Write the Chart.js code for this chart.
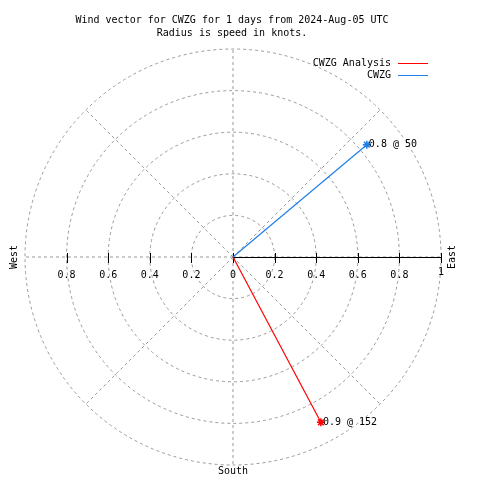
<!DOCTYPE html>
<html>
<head>
<meta charset="utf-8">
<script src="https://cdn.jsdelivr.net/npm/chart.js@4/dist/chart.umd.min.js"></script>
<style>
  html, body { margin: 0; padding: 0; background: #fff; }
</style>
</head>
<body>
<canvas id="windChart" width="480" height="480"></canvas>
<script>
// wind vector data (speed in knots, direction in degrees from north)
const seriesNames = ['CWZG Analysis', 'CWZG'];
const speeds = [0.9, 0.84];
const directions = [152, 50];
const seriesColors = ['#ff0000', '#1f7fe8'];

// polar grid
const rings = [0.2, 0.4, 0.6, 0.8, 1];
const spokeAngles = [0, 45, 90, 135, 180, 225, 270, 315];
const tickValues = [-0.8, -0.6, -0.4, -0.2, 0, 0.2, 0.4, 0.6, 0.8, 1];
const tickLabels = ['0.8', '0.6', '0.4', '0.2', '0', '0.2', '0.4', '0.6', '0.8', '1'];

const titleLines = ['Wind vector for CWZG for 1 days from 2024-Aug-05 UTC', 'Radius is speed in knots.'];
const FONT = '10px "DejaVu Sans Mono", monospace';

function toXY(speed, dir) {
  const a = dir * Math.PI / 180;
  return { x: speed * Math.sin(a), y: speed * Math.cos(a) };
}

const datasets = seriesNames.map(function (name, i) {
  return {
    label: name,
    data: [{ x: 0, y: 0 }, toXY(speeds[i], directions[i])],
    showLine: true,
    borderColor: seriesColors[i],
    backgroundColor: seriesColors[i],
    borderWidth: 1.2,
    pointStyle: 'star',
    pointRadius: [0, 4],
    pointBorderWidth: 1.5
  };
});

const polarGrid = {
  id: 'polarGrid',
  beforeDatasetsDraw(chart) {
    const ctx = chart.ctx;
    const xs = chart.scales.x, ys = chart.scales.y;
    const cx = xs.getPixelForValue(0), cy = ys.getPixelForValue(0);
    ctx.save();
    ctx.strokeStyle = '#999999';
    ctx.lineWidth = 1;
    ctx.setLineDash([3, 3]);
    rings.forEach(function (r) {
      const rad = xs.getPixelForValue(r) - cx;
      ctx.beginPath();
      ctx.arc(cx, cy, rad, 0, Math.PI * 2);
      ctx.stroke();
    });
    spokeAngles.forEach(function (d) {
      const p = toXY(1, d);
      ctx.beginPath();
      ctx.moveTo(cx, cy);
      ctx.lineTo(xs.getPixelForValue(p.x), ys.getPixelForValue(p.y));
      ctx.stroke();
    });
    // solid east axis
    ctx.setLineDash([]);
    ctx.strokeStyle = '#000';
    ctx.beginPath();
    ctx.moveTo(cx, cy + 0.5);
    ctx.lineTo(xs.getPixelForValue(1), cy + 0.5);
    ctx.stroke();
    tickValues.forEach(function (v) {
      const px = Math.round(xs.getPixelForValue(v)) + 0.5;
      ctx.beginPath();
      ctx.moveTo(px, cy - 4);
      ctx.lineTo(px, cy + 6);
      ctx.stroke();
    });
    ctx.restore();
  },
  afterDraw(chart) {
    const ctx = chart.ctx;
    const xs = chart.scales.x, ys = chart.scales.y;
    const cx = xs.getPixelForValue(0), cy = ys.getPixelForValue(0);
    ctx.save();
    ctx.font = FONT;
    ctx.fillStyle = '#000';
    ctx.textBaseline = 'middle';

    // title
    ctx.textAlign = 'center';
    ctx.fillText(titleLines[0], 232, 20);
    ctx.fillText(titleLines[1], 232, 33);

    // tick labels
    tickValues.forEach(function (v, i) {
      const y = v === 1 ? cy + 15 : cy + 18;
      ctx.fillText(tickLabels[i], xs.getPixelForValue(v), y);
    });

    // compass labels
    ctx.fillText('South', cx, 471);
    ctx.save();
    ctx.translate(452, cy);
    ctx.rotate(-Math.PI / 2);
    ctx.fillText('East', 0, 0);
    ctx.restore();
    ctx.save();
    ctx.translate(14, cy);
    ctx.rotate(-Math.PI / 2);
    ctx.fillText('West', 0, 0);
    ctx.restore();

    // value labels at vector tips
    ctx.textAlign = 'left';
    seriesNames.forEach(function (name, i) {
      const p = toXY(speeds[i], directions[i]);
      ctx.fillText(speeds[i].toFixed(1) + ' @ ' + directions[i],
        xs.getPixelForValue(p.x) + 2, ys.getPixelForValue(p.y));
    });

    // legend (text then line sample)
    ctx.textAlign = 'right';
    seriesNames.forEach(function (name, i) {
      const y = 63 + i * 12;
      ctx.fillStyle = '#000';
      ctx.fillText(name, 391, y);
      ctx.fillStyle = seriesColors[i];
      ctx.fillRect(398, y, 30, 1);
    });
    ctx.restore();
  }
};

var windChart = new Chart(document.getElementById('windChart'), {
  type: 'scatter',
  data: { datasets: datasets },
  options: {
    responsive: false,
    animation: false,
    layout: { padding: { left: 25, right: 39, top: 49, bottom: 15 } },
    scales: {
      x: { type: 'linear', min: -1, max: 1, display: false },
      y: { type: 'linear', min: -1, max: 1, display: false }
    },
    plugins: {
      legend: { display: false },
      title: { display: false },
      tooltip: { enabled: false }
    }
  },
  plugins: [polarGrid]
});
</script>
</body>
</html>
